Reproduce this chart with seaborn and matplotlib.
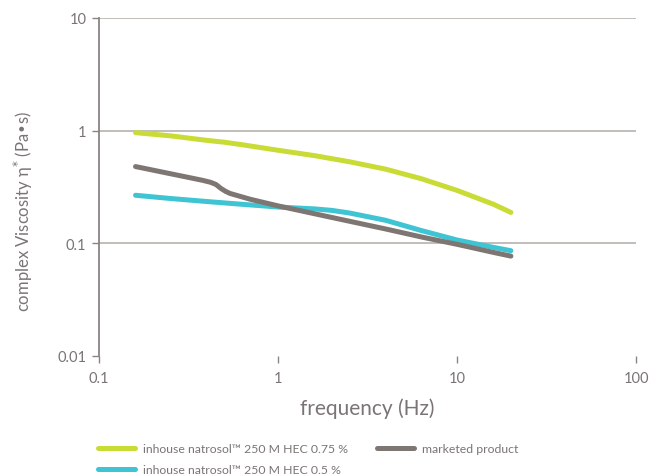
import numpy as np
import pandas as pd
import matplotlib
matplotlib.use("Agg")
import matplotlib.pyplot as plt
import seaborn as sns

# ---- data ----
freq_hec075 = [0.16, 0.25, 0.4, 0.5, 0.63, 1.0, 1.6, 2.5, 4.0, 6.3, 10.0, 16.0, 20.0]
visc_hec075 = [0.96, 0.90, 0.82, 0.79, 0.75, 0.67, 0.60, 0.53, 0.455, 0.375, 0.295, 0.222, 0.188]

freq_hec05 = [0.16, 0.25, 0.4, 0.63, 1.0, 1.6, 2.0, 2.5, 4.0, 6.3, 10.0, 16.0, 20.0]
visc_hec05 = [0.267, 0.25, 0.235, 0.222, 0.21, 0.202, 0.196, 0.186, 0.16, 0.13, 0.107, 0.092, 0.086]

freq_market = [0.16, 0.28, 0.38, 0.42, 0.45, 0.48, 0.51, 0.54, 0.7, 1.0, 1.95, 4.0, 6.3, 10.0, 16.0, 20.0]
visc_market = [0.48, 0.40, 0.362, 0.348, 0.333, 0.307, 0.289, 0.277, 0.246, 0.215, 0.171, 0.134, 0.114, 0.098, 0.083, 0.077]

labels = ["inhouse natrosol\u2122 250 M HEC 0.75 %",
          "inhouse natrosol\u2122 250 M HEC 0.5 %",
          "marketed product"]
colors = ["#c9dc35", "#3ec4d2", "#7d7673"]

x_ticks = [0.1, 1, 10, 100]
x_tick_labels = ["0.1", "1", "10", "100"]
y_ticks = [0.01, 0.1, 1, 10]
y_tick_labels = ["0.01", "0.1", "1", "10"]

df = pd.concat([
    pd.DataFrame({"freq": freq_hec075, "visc": visc_hec075, "series": labels[0]}),
    pd.DataFrame({"freq": freq_hec05, "visc": visc_hec05, "series": labels[1]}),
    pd.DataFrame({"freq": freq_market, "visc": visc_market, "series": labels[2]}),
], ignore_index=True)

sns.set_theme(style="white")
plt.rcParams["font.family"] = ["Lato", "DejaVu Sans"]
text_color = "#7a7574"

fig = plt.figure(figsize=(6.53, 4.77), dpi=100)
ax = fig.add_axes([0.1516, 0.2516, 0.8224, 0.7086])

sns.lineplot(data=df, x="freq", y="visc", hue="series", hue_order=labels,
             palette=colors, linewidth=3.6, ax=ax, legend=True, sort=True,
             solid_capstyle="round", solid_joinstyle="round")

ax.set_xscale("log")
ax.set_yscale("log")
ax.set_xlim(0.1, 100)
ax.set_ylim(0.01, 10)
ax.set_xticks(x_ticks)
ax.set_xticklabels(x_tick_labels)
ax.set_yticks(y_ticks)
ax.set_yticklabels(y_tick_labels)
ax.minorticks_off()

for yv in [0.1, 1, 10]:
    ax.axhline(yv, color="#b5b1af", linewidth=1.2, zorder=0)

for s in ["top", "right", "bottom"]:
    ax.spines[s].set_visible(False)
ax.spines["left"].set_color("#8a8583")
ax.spines["left"].set_linewidth(1.3)

ax.tick_params(axis="both", which="major", direction="out", length=5, width=1.0,
               color="#8a8583", labelcolor=text_color, labelsize=10.5, pad=4)
ax.tick_params(axis="x", pad=6, bottom=True)
ax.tick_params(axis="y", left=True)

ax.set_xlabel("frequency (Hz)", color=text_color, fontsize=15, labelpad=9)
ax.set_ylabel("complex Viscosity \u03b7$^{*}$ (Pa\u2022s)", color=text_color, fontsize=12)
ax.yaxis.set_label_coords(-0.12, 0.43)

handles, lbls = ax.get_legend_handles_labels()
leg = ax.legend(handles, lbls, loc="upper left", bbox_to_anchor=(-0.022, -0.225),
                ncol=2, frameon=False, fontsize=8.8, handlelength=3.0,
                handletextpad=0.65, columnspacing=2.4, labelspacing=0.85)
for t in leg.get_texts():
    t.set_color(text_color)
for h in leg.get_lines():
    h.set_linewidth(3.6)
    h.set_solid_capstyle("round")

fig.savefig("out.png", dpi=100)
